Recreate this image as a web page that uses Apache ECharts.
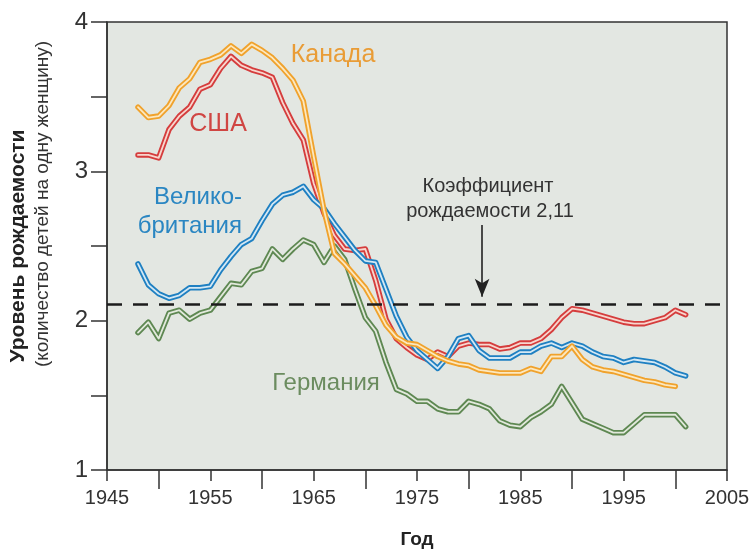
<!DOCTYPE html>
<html>
<head>
<meta charset="utf-8">
<script src="https://cdn.jsdelivr.net/npm/echarts@6/dist/echarts.min.js"></script>
<style>
  html, body { margin: 0; padding: 0; background: #ffffff; }
  #chart { width: 756px; height: 551px; }
</style>
</head>
<body>
<div id="chart"></div>
<script>
// years 1948 .. 2001
const years = [1948, 1949, 1950, 1951, 1952, 1953, 1954, 1955, 1956, 1957, 1958, 1959,
  1960, 1961, 1962, 1963, 1964, 1965, 1966, 1967, 1968, 1969, 1970, 1971, 1972, 1973,
  1974, 1975, 1976, 1977, 1978, 1979, 1980, 1981, 1982, 1983, 1984, 1985, 1986, 1987,
  1988, 1989, 1990, 1991, 1992, 1993, 1994, 1995, 1996, 1997, 1998, 1999, 2000, 2001]

// Канада (до 2000)
const canada = [3.43, 3.36, 3.37, 3.44, 3.56, 3.62, 3.73, 3.75, 3.78, 3.84, 3.79, 3.85,
  3.81, 3.76, 3.69, 3.61, 3.47, 3.10, 2.74, 2.45, 2.38, 2.30, 2.22, 2.10, 1.97, 1.89,
  1.85, 1.84, 1.80, 1.76, 1.73, 1.71, 1.70, 1.67, 1.66, 1.65, 1.65, 1.65, 1.68, 1.66,
  1.76, 1.76, 1.83, 1.74, 1.69, 1.67, 1.66, 1.64, 1.62, 1.60, 1.59, 1.57, 1.56]

// США
const usa = [3.11, 3.11, 3.09, 3.28, 3.37, 3.43, 3.55, 3.58, 3.69, 3.77, 3.71, 3.68,
  3.66, 3.63, 3.46, 3.32, 3.21, 2.92, 2.72, 2.57, 2.48, 2.47, 2.48, 2.27, 2.01, 1.88,
  1.82, 1.77, 1.74, 1.79, 1.76, 1.83, 1.85, 1.84, 1.84, 1.81, 1.82, 1.85, 1.85, 1.88,
  1.94, 2.02, 2.08, 2.07, 2.05, 2.03, 2.01, 1.99, 1.98, 1.98, 2.00, 2.02, 2.07, 2.04]

// Великобритания
const uk = [2.38, 2.24, 2.18, 2.15, 2.17, 2.22, 2.22, 2.23, 2.34, 2.43, 2.51, 2.55,
  2.67, 2.78, 2.84, 2.86, 2.90, 2.81, 2.75, 2.65, 2.56, 2.47, 2.40, 2.39, 2.21, 2.03,
  1.89, 1.80, 1.74, 1.68, 1.76, 1.88, 1.90, 1.80, 1.75, 1.75, 1.75, 1.79, 1.79, 1.83,
  1.85, 1.82, 1.85, 1.83, 1.79, 1.76, 1.75, 1.72, 1.74, 1.73, 1.72, 1.69, 1.65, 1.63]

// Германия
const germany = [1.92, 1.99, 1.88, 2.05, 2.07, 2.01, 2.05, 2.07, 2.16, 2.25, 2.24, 2.33,
  2.35, 2.48, 2.41, 2.48, 2.54, 2.51, 2.39, 2.50, 2.41, 2.21, 2.02, 1.93, 1.72, 1.54,
  1.51, 1.46, 1.46, 1.41, 1.39, 1.39, 1.46, 1.44, 1.41, 1.33, 1.30, 1.29, 1.35, 1.39,
  1.44, 1.56, 1.45, 1.34, 1.31, 1.28, 1.25, 1.25, 1.31, 1.37, 1.37, 1.37, 1.37, 1.29]

const yearStart = 1945
const yearEnd = 2005
const replacementRate = 2.11
const arrowYear = 1981.3
const arrowFrom = 2.64
const arrowTo = 2.16

const font = '"Liberation Sans", Arial, sans-serif'

// x axis runs on years since 1945 so the labelled ticks (1945, 1955 ...) sit on the interval
function toPoints (vals) {
  return vals.map((v, i) => [years[i] - yearStart, v])
}

function tube (name, vals, color, inner, extra) {
  const pts = toPoints(vals)
  const outer = Object.assign({
    name: name,
    type: 'line',
    data: pts,
    showSymbol: false,
    silent: true,
    lineStyle: { color: color, width: 5.5, cap: 'round', join: 'round' }
  }, extra || {})
  const core = {
    name: name + '-core',
    type: 'line',
    data: pts,
    showSymbol: false,
    silent: true,
    lineStyle: { color: inner, width: 1.8, cap: 'round', join: 'round' }
  }
  return [outer, core]
}

const series = [].concat(
  tube('Германия', germany, '#5e8852', '#e2e9dc', {
    markLine: {
      silent: true,
      symbol: 'none',
      label: { show: false },
      lineStyle: { color: '#1c1c1c', width: 2.5, type: [15, 11] },
      data: [{ yAxis: replacementRate }]
    }
  }),
  tube('США', usa, '#d53d3d', '#f8d6ce'),
  tube('Великобритания', uk, '#1f80c2', '#d4e8f4', {
    markLine: {
      silent: true,
      symbol: ['none', 'arrow'],
      symbolSize: [11, 18],
      label: { show: false },
      lineStyle: { color: '#222222', width: 1.6, type: 'solid' },
      data: [[
        { coord: [arrowYear - yearStart, arrowFrom] },
        { coord: [arrowYear - yearStart, arrowTo] }
      ]]
    }
  }),
  tube('Канада', canada, '#f0a22c', '#fce8bf')
)

const chart = echarts.init(document.getElementById('chart'), null, { renderer: 'canvas' })

chart.setOption({
  animation: false,
  backgroundColor: '#ffffff',
  grid: {
    left: 107,
    right: 29,
    top: 22,
    bottom: 81,
    outerBoundsMode: 'none',
    containLabel: false,
    show: true,
    backgroundColor: '#e3e7e2',
    borderColor: '#333333',
    borderWidth: 1.5
  },
  xAxis: {
    type: 'value',
    min: 0,
    max: yearEnd - yearStart,
    interval: 10,
    name: 'Год',
    nameLocation: 'middle',
    nameGap: 60,
    nameTextStyle: { fontFamily: font, fontSize: 19, fontWeight: 'bold', color: '#222' },
    axisLine: { lineStyle: { color: '#333', width: 1.5 } },
    axisTick: { length: 11, lineStyle: { color: '#333', width: 1.5 } },
    minorTick: { show: true, splitNumber: 2, length: 19, lineStyle: { color: '#333', width: 1.5 } },
    splitLine: { show: false },
    axisLabel: {
      margin: 18,
      fontFamily: font,
      fontSize: 20,
      color: '#333',
      formatter: function (v) { return String(v + yearStart) }
    }
  },
  yAxis: {
    type: 'value',
    min: 1,
    max: 4,
    interval: 1,
    axisLine: { show: true, lineStyle: { color: '#333', width: 1.5 } },
    axisTick: { show: true, length: 16, lineStyle: { color: '#333', width: 1.5 } },
    minorTick: { show: true, splitNumber: 2, length: 16, lineStyle: { color: '#333', width: 1.5 } },
    splitLine: { show: false },
    axisLabel: { margin: 19, fontFamily: font, fontSize: 24, color: '#333' }
  },
  series: series,
  graphic: [
    {
      type: 'text', x: 18, y: 246, rotation: Math.PI / 2,
      style: { text: 'Уровень рождаемости', fill: '#222', font: 'bold 21px ' + font, textAlign: 'center', textVerticalAlign: 'middle' }
    },
    {
      type: 'text', x: 43, y: 204, rotation: Math.PI / 2,
      style: { text: '(количество детей на одну женщину)', fill: '#333', font: '19px ' + font, textAlign: 'center', textVerticalAlign: 'middle' }
    },
    {
      type: 'text', x: 333, y: 55,
      style: { text: 'Канада', fill: '#e99c36', font: '25px ' + font, textAlign: 'center', textVerticalAlign: 'middle' }
    },
    {
      type: 'text', x: 218, y: 124,
      style: { text: 'США', fill: '#d04643', font: '25px ' + font, textAlign: 'center', textVerticalAlign: 'middle' }
    },
    {
      type: 'text', x: 242, y: 197,
      style: { text: 'Велико-', fill: '#2a86c2', font: '24px ' + font, textAlign: 'right', textVerticalAlign: 'middle' }
    },
    {
      type: 'text', x: 242, y: 226,
      style: { text: 'британия', fill: '#2a86c2', font: '24px ' + font, textAlign: 'right', textVerticalAlign: 'middle' }
    },
    {
      type: 'text', x: 326, y: 383,
      style: { text: 'Германия', fill: '#6b8c5f', font: '24px ' + font, textAlign: 'center', textVerticalAlign: 'middle' }
    },
    {
      type: 'text', x: 488, y: 186,
      style: { text: 'Коэффициент', fill: '#333', font: '20px ' + font, textAlign: 'center', textVerticalAlign: 'middle' }
    },
    {
      type: 'text', x: 490, y: 211,
      style: { text: 'рождаемости 2,11', fill: '#333', font: '20px ' + font, textAlign: 'center', textVerticalAlign: 'middle' }
    }
  ]
})
</script>
</body>
</html>
